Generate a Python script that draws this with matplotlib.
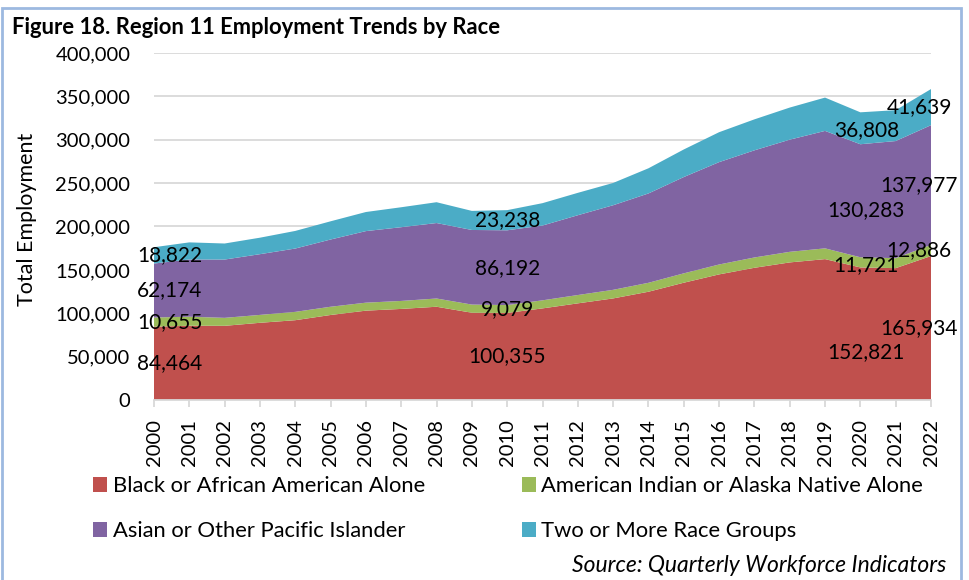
import matplotlib
matplotlib.use("Agg")
import matplotlib.pyplot as plt
from matplotlib.patches import Patch, Rectangle
from matplotlib.ticker import FuncFormatter
import numpy as np

plt.rcParams['font.family'] = ['Lato', 'DejaVu Sans']

years = list(range(2000, 2023))

black = [84464, 85600, 85500, 89000, 92000, 98000, 103000, 105000, 107500, 100600,
         100355, 105600, 111400, 117100, 124800, 135200, 144800, 152400, 158600, 162400,
         152821, 152000, 165934]
amind = [10655, 10400, 9200, 9100, 9600, 9500, 9200, 9200, 9500, 9400,
         9079, 9300, 9600, 9900, 10300, 10800, 11400, 11900, 12200, 12400,
         11721, 11500, 12886]
asian = [62174, 66000, 67200, 70000, 73000, 77500, 82500, 85000, 87000, 86000,
         86192, 86200, 92000, 97500, 103000, 111000, 118000, 123500, 129300, 135400,
         130283, 135000, 137977]
multi = [18822, 19700, 18500, 19000, 20300, 21000, 22000, 23000, 24000, 22000,
         23238, 25800, 25800, 25700, 29000, 31800, 34500, 35700, 37000, 38400,
         36808, 35600, 41639]

series_names = ["Black or African American Alone", "American Indian or Alaska Native Alone",
                "Asian or Other Pacific Islander", "Two or More Race Groups"]
series_colors = ["#C0504D", "#9BBB59", "#8064A2", "#4BACC6"]

# years that carry data labels, with label nudges in pixels (dx, dy per series)
label_years = [2000, 2010, 2020, 2022]
label_dx = {2000: 16, 2010: 0, 2020: 6, 2022: -12}
label_dy = {2020: [-18, -3, -9, -2]}


def fmt(v, pos=None):
    return "{:,.0f}".format(v)


def main():
    fig = plt.figure(figsize=(9.69, 5.8), dpi=100)
    ax = fig.add_axes([154 / 969, 1 - 400 / 580, (931 - 154) / 969, (400 - 53) / 580])

    data = [black, amind, asian, multi]
    ax.stackplot(years, data, colors=series_colors, linewidth=0, zorder=2)

    ax.set_xlim(2000, 2022)
    ax.set_ylim(0, 400000)
    ax.set_yticks(np.arange(0, 400001, 50000))
    ax.yaxis.set_major_formatter(FuncFormatter(fmt))
    ax.set_xticks(years)
    ax.set_xticklabels([str(y) for y in years], rotation=90)
    ax.grid(axis='y', color='#D9D9D9', linewidth=1.3, zorder=0)
    ax.set_axisbelow(True)
    for s in ['top', 'right', 'left']:
        ax.spines[s].set_visible(False)
    ax.spines['bottom'].set_color('#D9D9D9')
    ax.spines['bottom'].set_linewidth(1.3)
    ax.tick_params(axis='y', length=0, pad=17, labelsize=14.5)
    ax.tick_params(axis='x', length=5, width=1.3, color='#D9D9D9', pad=9, labelsize=14.5)
    ax.set_ylabel("Total Employment", fontsize=15.5)
    ax.yaxis.set_label_coords(-0.150, 0.52)

    # data labels, centred in each band
    cum = np.cumsum(np.array(data, dtype=float), axis=0)
    for yr in label_years:
        i = years.index(yr)
        for k in range(4):
            mid = cum[k, i] - data[k][i] / 2
            dy = label_dy.get(yr, [0, 0, 0, 0])[k]
            ax.annotate(fmt(data[k][i]), (yr, mid), xytext=(label_dx[yr] / 1.389, dy / 1.389),
                        textcoords='offset points', ha='center', va='center',
                        fontsize=15, color='black', zorder=5, annotation_clip=False)

    fig.text(12 / 969, 1 - 28 / 580, "Figure 18. Region 11 Employment Trends by Race",
             fontsize=15.8, fontweight='bold', ha='left', va='center')

    order = [0, 2, 1, 3]
    handles = [Patch(facecolor=series_colors[k], edgecolor='none') for k in order]
    labels = [series_names[k] for k in order]
    fig.legend(handles, labels, ncol=2, loc='upper left', bbox_to_anchor=(93 / 969, 1 - 476 / 580),
               frameon=False, fontsize=15.8, handlelength=0.65, handleheight=0.65,
               handletextpad=0.25, columnspacing=4.4, labelspacing=1.15,
               borderpad=0, borderaxespad=0)

    fig.text(946 / 969, 1 - 565 / 580, "Source: Quarterly Workforce Indicators",
             fontsize=16.5, fontstyle='italic', ha='right', va='center')

    fig.add_artist(Rectangle((2 / 969, -0.05), (961 - 2) / 969, 1.05 - 8 / 580,
                             transform=fig.transFigure, fill=False,
                             edgecolor='#9DB9E0', linewidth=2))

    fig.savefig("out.png", dpi=100)


main()
